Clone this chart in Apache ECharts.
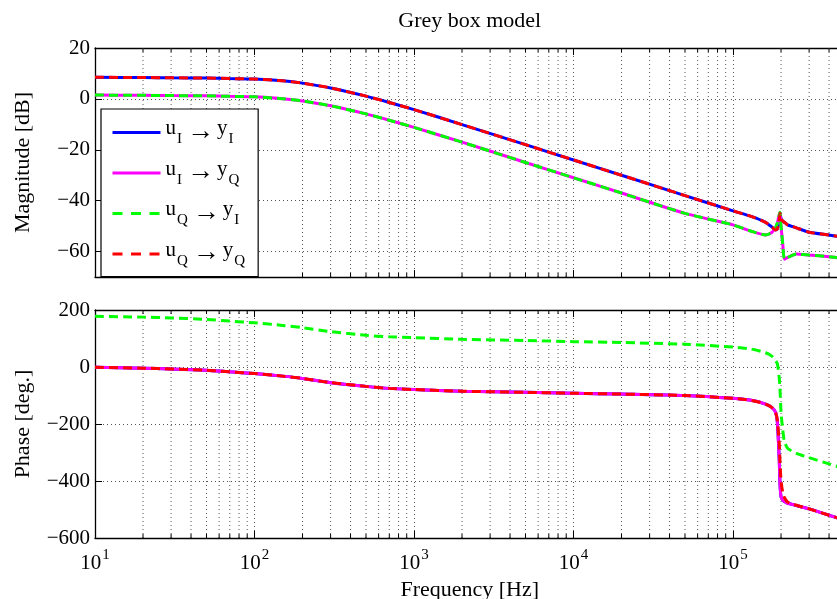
<!DOCTYPE html>
<html>
<head>
<meta charset="utf-8">
<script src="https://cdn.jsdelivr.net/npm/echarts@6/dist/echarts.min.js"></script>
<style>
  html, body { margin: 0; padding: 0; background: #fff; }
  #main { width: 837px; height: 599px; }
</style>
</head>
<body>
<div id="main"></div>
<script>
// frequency points (Hz)
const freq = [10, 20, 30, 50, 70, 100, 150, 200, 300, 500, 700, 1000, 2000, 5000,
  10000, 20000, 50000, 100000, 130000, 160000, 175000, 185000, 190000, 195000,
  197000, 200000, 205000, 210000, 220000, 250000, 300000, 400000, 450000, 500000];

// magnitude [dB]
const magUIyI = [8.5, 8.4, 8.3, 8.2, 8.0, 7.8, 7.1, 6.2, 4.3, 1.1, -1.4, -4.2, -10.1, -18,
  -24, -30, -38, -44, -46.2, -48.5, -50.3, -51.5, -51, -47.3,
  -45, -47, -48, -48.5, -49.5, -50.7, -52.4, -53.5, -54, -54.4];
const magUIyQ = [1.5, 1.4, 1.3, 1.2, 1.0, 0.8, 0.1, -0.8, -2.7, -5.9, -8.4, -11.2, -17, -25,
  -31, -37, -45, -49.5, -52, -53.5, -52.5, -50.5, -48.5, -45.5,
  -44.6, -50, -57, -63, -62.3, -61, -61.4, -62, -62.4, -62.7];
const magUQyI = magUIyQ.slice(); // lies on top of u_I -> y_Q
const magUQyQ = magUIyI.slice(); // lies on top of u_I -> y_I

// phase [deg.]
const phaseUIyQ = [-1, -4, -7, -11, -17, -23, -32, -40, -55, -68, -75, -79, -85, -89,
  -92, -95, -100, -110, -117, -130, -142, -160, -200, -330,
  -410, -455, -467, -472, -478, -486, -498, -520, -529, -536];
const phaseUIyI = phaseUIyQ.slice(); // hidden under magenta
const phaseUQyI = [178, 175, 172, 167, 161, 155, 146, 138, 124, 111, 106, 103, 97, 93,
  89, 86, 80, 70, 63, 50, 38, 22, 10, -40,
  -75, -160, -220, -262, -285, -303, -318, -340, -349, -356];
const phaseUQyQ = [-1, -4, -7, -11, -17, -23, -32, -40, -55, -68, -75, -79, -85, -89,
  -92, -95, -100, -110, -117, -130, -142, -160, -190, -270,
  -330, -400, -440, -458, -474, -485, -498, -520, -529, -536];

const seriesNames = ['uI-yI', 'uI-yQ', 'uQ-yI', 'uQ-yQ'];
const seriesColors = ['#0000ff', '#ff00ff', '#00ff00', '#ff0000'];
const seriesDashed = [false, false, true, true];
const legendText = {
  'uI-yI': '{m|u}{s|I}{a|\u2192}{m|y}{s|I}',
  'uI-yQ': '{m|u}{s|I}{a|\u2192}{m|y}{s|Q}',
  'uQ-yI': '{m|u}{s|Q}{a|\u2192}{m|y}{s|I}',
  'uQ-yQ': '{m|u}{s|Q}{a|\u2192}{m|y}{s|Q}'
};

const magTicks = [-70, 20];
const phaseTicks = [-600, 200];
const fMin = 10, fMax = 500000;
const decades = [10, 100, 1000, 10000, 100000];
const mults = [2, 3, 4, 5, 6, 7, 8, 9];

const font = 'Liberation Serif';
const gridDot = { color: '#555', width: 1, type: [1, 3] };

const minorFreqs = [];
decades.forEach(d => mults.forEach(m => { if (d * m <= fMax) minorFreqs.push(d * m); }));

function minus(v) {
  return String(v).replace('-', '\u2212');
}

function freqAxis(gi, position, labels) {
  return {
    type: 'log', logBase: 10, gridIndex: gi, position: position,
    min: fMin, max: fMax,
    axisLine: { show: true, onZero: false, lineStyle: { color: '#000', width: 1.3 } },
    axisTick: { show: true, inside: true, length: 7, lineStyle: { color: '#000' } },
    axisLabel: labels ? {
      show: true, margin: 10, color: '#000', fontFamily: font, fontSize: 21, lineHeight: 30,
      showMaxLabel: false,
      formatter: v => {
        const e = Math.round(Math.log10(v));
        if (Math.abs(Math.log10(v) - e) > 1e-6) return '';
        return '{b|10}{sup|' + e + '}';
      },
      rich: {
        b: { fontFamily: font, fontSize: 21, lineHeight: 30, color: '#000' },
        sup: { fontFamily: font, fontSize: 15, lineHeight: 10, verticalAlign: 'top', padding: [0, 0, 0, 1], color: '#000' }
      }
    } : { show: false },
    splitLine: { show: position === 'bottom', lineStyle: gridDot },
    name: labels ? 'Frequency [Hz]' : '',
    nameLocation: 'middle', nameGap: 35,
    nameTextStyle: { fontFamily: font, fontSize: 22, color: '#000' }
  };
}

function valueAxis(gi, name, ext, interval) {
  const ax = {
    type: 'value', gridIndex: gi, min: ext[0], max: ext[1],
    name: name, nameLocation: 'middle', nameGap: 61,
    nameTextStyle: { fontFamily: font, fontSize: 22, color: '#000' },
    axisLine: { show: true, onZero: false, lineStyle: { color: '#000', width: 1.3 } },
    axisTick: { show: true, inside: true, length: 7, lineStyle: { color: '#000' } },
    axisLabel: {
      color: '#000', fontFamily: font, fontSize: 21, margin: 5,
      showMinLabel: gi === 1,
      formatter: v => minus(v)
    },
    splitLine: { show: true, lineStyle: gridDot }
  };
  if (interval) ax.interval = interval;
  return ax;
}

// dotted minor grid lines + minor ticks at 2..9 x 10^n
function minorGrid(gi, ext) {
  return {
    type: 'custom', xAxisIndex: gi * 2, yAxisIndex: gi, silent: true, z: 1,
    data: minorFreqs.map(f => [f, ext[0]]),
    renderItem: (params, api) => {
      const f = api.value(0);
      const b = api.coord([f, ext[0]]);
      const t = api.coord([f, ext[1]]);
      return {
        type: 'group',
        children: [
          { type: 'line', shape: { x1: b[0], y1: b[1], x2: t[0], y2: t[1] },
            style: { stroke: gridDot.color, lineWidth: 1, lineDash: gridDot.type } },
          { type: 'line', shape: { x1: b[0], y1: b[1], x2: b[0], y2: b[1] - 4 },
            style: { stroke: '#000', lineWidth: 1 } },
          { type: 'line', shape: { x1: t[0], y1: t[1], x2: t[0], y2: t[1] + 4 },
            style: { stroke: '#000', lineWidth: 1 } }
        ]
      };
    }
  };
}

function curve(i, gi, values) {
  return {
    name: seriesNames[i], type: 'line', xAxisIndex: gi * 2, yAxisIndex: gi,
    data: freq.map((f, k) => [f, values[k]]),
    symbol: 'none', showSymbol: false, smooth: 0.2, z: 3,
    lineStyle: { color: seriesColors[i], width: 3, type: seriesDashed[i] ? [9, 5] : 'solid' },
    itemStyle: { color: seriesColors[i] }
  };
}

const chart = echarts.init(document.getElementById('main'));

chart.setOption({
  animation: false,
  backgroundColor: '#fff',
  title: {
    text: 'Grey box model', left: 469.75, top: 10, padding: 0, textAlign: 'center',
    textStyle: { fontFamily: font, fontSize: 22, fontWeight: 'normal', color: '#000' }
  },
  // plot area runs past the right edge of the picture
  grid: [
    { left: 95, width: 749.5, top: 48, height: 229, outerBoundsMode: 'none', containLabel: false },
    { left: 95, width: 749.5, top: 310, height: 228, outerBoundsMode: 'none', containLabel: false }
  ],
  legend: {
    data: seriesNames.map((n, i) => ({
      name: n,
      lineStyle: { type: seriesDashed[i] ? [10, 8.5] : 'solid', width: 3 }
    })),
    orient: 'vertical', left: 101, top: 109,
    padding: [1, 13, 8, 10], itemGap: 3.5, itemWidth: 48, itemHeight: 14,
    backgroundColor: '#fff', borderColor: '#000', borderWidth: 1.2, borderRadius: 0,
    itemStyle: { opacity: 0 },
    lineStyle: { width: 3 },
    formatter: n => legendText[n],
    textStyle: {
      fontFamily: font, color: '#000',
      rich: {
        m: { fontFamily: font, fontSize: 21, lineHeight: 29, verticalAlign: 'top', color: '#000' },
        a: { fontFamily: font, fontSize: 27, lineHeight: 29, verticalAlign: 'top', padding: [0, 3, 0, 5], color: '#000' },
        s: { fontFamily: font, fontSize: 15, lineHeight: 14, padding: [22, 0, 0, 1], verticalAlign: 'bottom', color: '#000' }
      }
    }
  },
  xAxis: [
    freqAxis(0, 'bottom', false), freqAxis(0, 'top', false),
    freqAxis(1, 'bottom', true), freqAxis(1, 'top', false)
  ],
  yAxis: [
    valueAxis(0, 'Magnitude [dB]', magTicks, null),
    valueAxis(1, 'Phase [deg.]', phaseTicks, 200)
  ],
  series: [
    minorGrid(0, magTicks), minorGrid(1, phaseTicks),
    curve(0, 0, magUIyI), curve(1, 0, magUIyQ), curve(2, 0, magUQyI), curve(3, 0, magUQyQ),
    curve(0, 1, phaseUIyI), curve(1, 1, phaseUIyQ), curve(2, 1, phaseUQyI), curve(3, 1, phaseUQyQ)
  ]
});
</script>
</body>
</html>
